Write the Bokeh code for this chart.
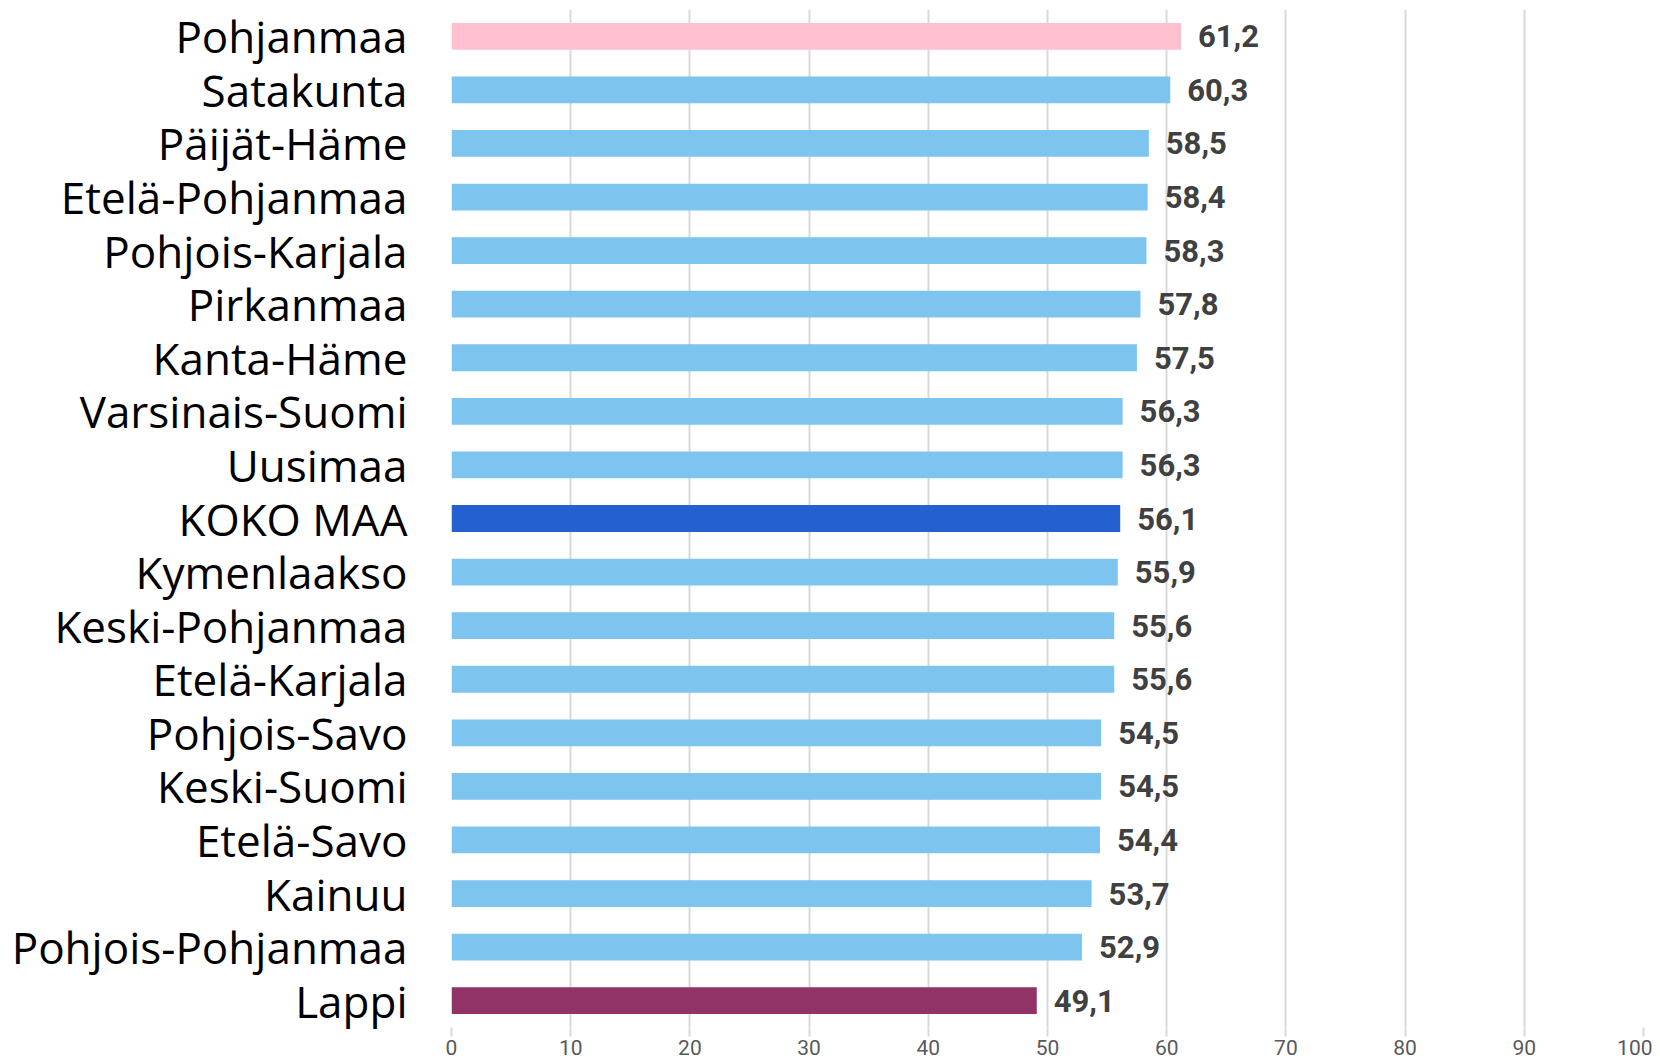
from bokeh.plotting import figure
from bokeh.models import ColumnDataSource, FactorRange, Range1d, FixedTicker
from bokeh.embed import file_html
from bokeh.resources import INLINE
from bokeh.core.properties import value

regions = ["Pohjanmaa", "Satakunta", "Päijät-Häme", "Etelä-Pohjanmaa", "Pohjois-Karjala",
           "Pirkanmaa", "Kanta-Häme", "Varsinais-Suomi", "Uusimaa", "KOKO MAA",
           "Kymenlaakso", "Keski-Pohjanmaa", "Etelä-Karjala", "Pohjois-Savo",
           "Keski-Suomi", "Etelä-Savo", "Kainuu", "Pohjois-Pohjanmaa", "Lappi"]
values = [61.2, 60.3, 58.5, 58.4, 58.3, 57.8, 57.5, 56.3, 56.3, 56.1,
          55.9, 55.6, 55.6, 54.5, 54.5, 54.4, 53.7, 52.9, 49.1]
x_ticks = [0, 10, 20, 30, 40, 50, 60, 70, 80, 90, 100]

base_color = "#7DC5EE"
highlight = {"Pohjanmaa": "#FFC0CF", "KOKO MAA": "#2560D0", "Lappi": "#913366"}
colors = [highlight.get(r, base_color) for r in regions]
labels = [f"{v:.1f}".replace(".", ",") for v in values]

src = ColumnDataSource(dict(region=regions, val=values, color=colors, label=labels))

p = figure(width=1652, height=1062, output_backend="svg", toolbar_location=None,
           y_range=FactorRange(factors=list(reversed(regions)), range_padding=0),
           x_range=Range1d(0, 100),
           min_border_left=451, min_border_right=9, min_border_top=9, min_border_bottom=35)
p.outline_line_color = None
p.background_fill_color = "white"
p.border_fill_color = "white"

p.hbar(y="region", right="val", left=0, height=0.5, color="color", line_color=None, source=src)
p.text(x="val", y="region", text="label", source=src, x_offset=17,
       text_baseline="middle", text_align="left",
       text_font=value("Roboto"), text_font_style="bold", text_font_size="31px",
       text_color="#404040")

p.ygrid.grid_line_color = None
p.xgrid.grid_line_color = "#D9D9D9"
p.xgrid.grid_line_width = 2
p.xaxis.ticker = FixedTicker(ticks=x_ticks)
p.xaxis.axis_line_color = None
p.xaxis.major_tick_line_color = "#D9D9D9"
p.xaxis.major_tick_line_width = 2
p.xaxis.major_tick_in = 0
p.xaxis.major_tick_out = 9
p.xaxis.minor_tick_line_color = None
p.xaxis.major_label_standoff = 3
p.xaxis.major_label_text_font = "Roboto"
p.xaxis.major_label_text_font_size = "21px"
p.xaxis.major_label_text_color = "#595959"

p.yaxis.axis_line_color = None
p.yaxis.major_tick_line_color = None
p.yaxis.minor_tick_line_color = None
p.yaxis.major_label_standoff = 38
p.yaxis.major_label_text_font = "Open Sans"
p.yaxis.major_label_text_font_size = "44px"
p.yaxis.major_label_text_color = "#000000"

open("out.html", "w").write(file_html(p, INLINE))
